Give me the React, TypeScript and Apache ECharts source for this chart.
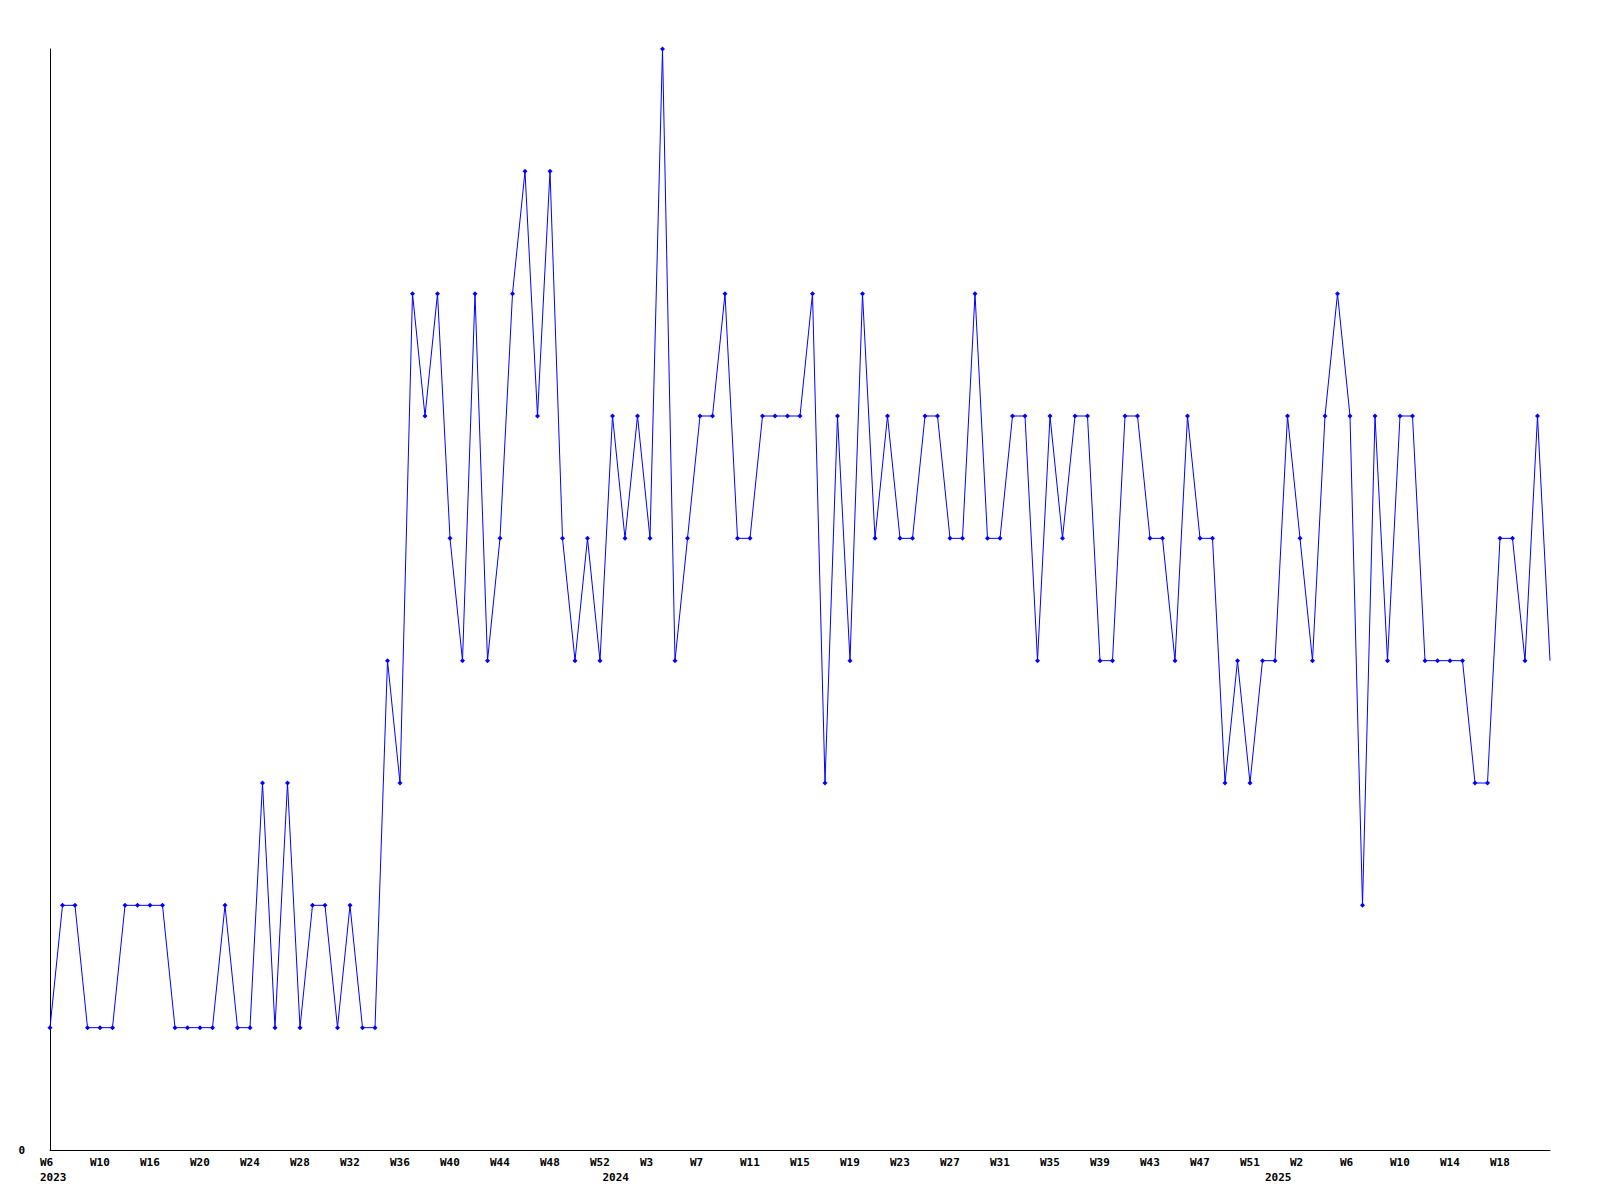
import React, { useEffect, useRef } from "react";
import * as echarts from "echarts";

// Weekly values, 2023 W6 .. 2025 (121 weeks)
const values: number[] = [
  1, 2, 2, 1, 1, 1, 2, 2, 2, 2, 1, 1, 1, 1, 2, 1, 1, 3, 1, 3,
  1, 2, 2, 1, 2, 1, 1, 4, 3, 7, 6, 7, 5, 4, 7, 4, 5, 7, 8, 6,
  8, 5, 4, 5, 4, 6, 5, 6, 5, 9, 4, 5, 6, 6, 7, 5, 5, 6, 6, 6,
  6, 7, 3, 6, 4, 7, 5, 6, 5, 5, 6, 6, 5, 5, 7, 5, 5, 6, 6, 4,
  6, 5, 6, 6, 4, 4, 6, 6, 5, 5, 4, 6, 5, 5, 3, 4, 3, 4, 4, 6,
  5, 4, 6, 7, 6, 2, 6, 4, 6, 6, 4, 4, 4, 4, 3, 3, 5, 5, 4, 6,
  4,
];

// Tick labels shown every 4th week
const tickLabels: string[] = [
  "W6", "W10", "W16", "W20", "W24", "W28", "W32", "W36", "W40", "W44",
  "W48", "W52", "W3", "W7", "W11", "W15", "W19", "W23", "W27", "W31",
  "W35", "W39", "W43", "W47", "W51", "W2", "W6", "W10", "W14", "W18",
];

// Year labels and the week index where each appears
const yearNames: string[] = ["2023", "2024", "2025"];
const yearIndex: number[] = [0, 45, 98];

const categories: string[] = values.map((_, i) => String(i));

const FONT = "DejaVu Sans Mono";

export default function App() {
  const ref = useRef<HTMLDivElement>(null);

  useEffect(() => {
    if (!ref.current) return;
    const chart = echarts.init(ref.current, undefined, { renderer: "svg" });
    const labelStyle = {
      fontFamily: FONT,
      fontWeight: "bold" as const,
      fontSize: 11,
      color: "#000",
    };
    chart.setOption({
      animation: false,
      backgroundColor: "#ffffff",
      grid: { left: 50, right: 50, top: 49, bottom: 50, containLabel: false },
      xAxis: [
        {
          type: "category",
          data: categories,
          boundaryGap: false,
          axisLine: { show: true, lineStyle: { color: "#000", width: 1 } },
          axisTick: { show: false },
          splitLine: { show: false },
          axisLabel: {
            ...labelStyle,
            interval: 3,
            align: "left",
            padding: [0, 0, 0, -10],
            margin: 7,
            formatter: (_v: string, idx: number) =>
              idx % 4 === 0 ? tickLabels[idx / 4] ?? "" : "",
          },
        },
        {
          type: "category",
          data: categories,
          boundaryGap: false,
          position: "bottom",
          axisLine: { show: false },
          axisTick: { show: false },
          splitLine: { show: false },
          axisLabel: {
            ...labelStyle,
            interval: (idx: number) => yearIndex.indexOf(idx) >= 0,
            align: "left",
            padding: [0, 0, 0, -10],
            margin: 22,
            formatter: (_v: string, idx: number) => {
              const k = yearIndex.indexOf(idx);
              return k >= 0 ? yearNames[k] : "";
            },
          },
        },
      ],
      yAxis: {
        type: "value",
        min: 0,
        max: 9,
        interval: 9,
        axisLine: { show: true, lineStyle: { color: "#000", width: 1 } },
        axisTick: { show: false },
        splitLine: { show: false },
        axisLabel: {
          ...labelStyle,
          margin: 25,
          formatter: (v: number) => (v === 0 ? "0" : ""),
        },
      },
      series: [
        {
          type: "line",
          xAxisIndex: 0,
          data: values.map((v, i) =>
            i === values.length - 1 ? { value: v, symbol: "none" } : v
          ),
          symbol: "diamond",
          symbolSize: 5,
          showAllSymbol: true,
          lineStyle: { color: "#0000ff", width: 1 },
          itemStyle: { color: "#0000ff" },
          emphasis: { disabled: true },
        },
      ],
    });
    return () => chart.dispose();
  }, []);

  return (
    <div
      ref={ref}
      style={{ position: "absolute", left: 0, top: 0, width: 1600, height: 1200 }}
    />
  );
}
